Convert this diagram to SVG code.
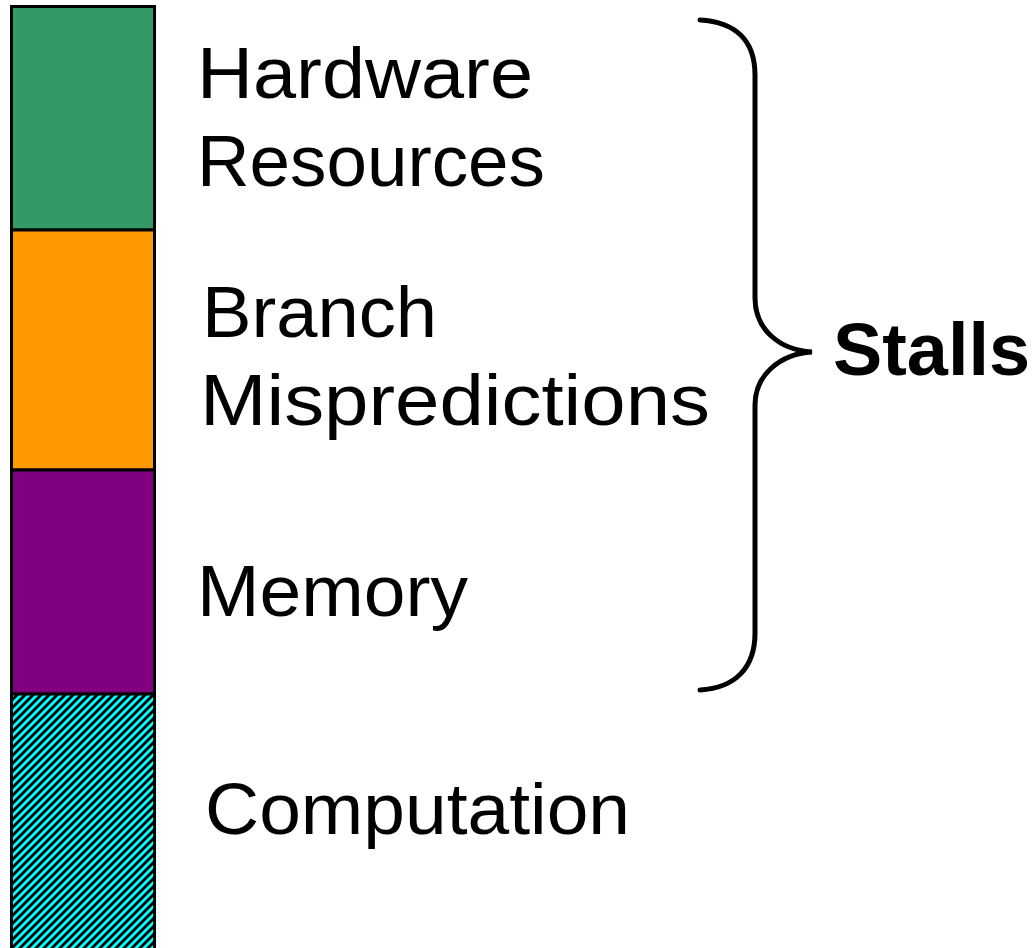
<svg xmlns="http://www.w3.org/2000/svg" width="1036" height="948" viewBox="0 0 1036 948">
<style>
.lbl{font-family:"Liberation Sans",Arial,sans-serif;font-size:72px;fill:#000}
.stalls{font-family:"Liberation Sans",Arial,sans-serif;font-size:74px;font-weight:bold;fill:#000}
.seg{stroke:#000;stroke-width:3}
</style>
<defs>
<pattern id="hatch" patternUnits="userSpaceOnUse" width="8" height="8">
<rect width="8" height="8" fill="#00FFFF"/>
<path d="M-2,2 L2,-2 M0,8 L8,0 M6,10 L10,6" stroke="#000" stroke-width="2.8"/>
</pattern>
</defs>
<rect width="1036" height="948" fill="#fff"/>
<g id="bar">
<rect id="seg-hw" class="seg" x="11.5" y="6.5" width="143" height="223.5" fill="#339966"/>
<rect id="seg-branch" class="seg" x="11.5" y="230" width="143" height="240" fill="#FF9900"/>
<rect id="seg-mem" class="seg" x="11.5" y="470" width="143" height="224" fill="#800080"/>
<rect id="seg-comp" class="seg" x="11.5" y="694" width="143" height="270" fill="url(#hatch)"/>
</g>
<g id="label-hw">
<text class="lbl" x="197" y="98" textLength="336" lengthAdjust="spacingAndGlyphs">Hardware</text>
<text class="lbl" x="197" y="186" textLength="348" lengthAdjust="spacingAndGlyphs">Resources</text>
</g>
<g id="label-branch">
<text class="lbl" x="202" y="337" textLength="235" lengthAdjust="spacingAndGlyphs">Branch</text>
<text class="lbl" x="200" y="425" textLength="510" lengthAdjust="spacingAndGlyphs">Mispredictions</text>
</g>
<g id="label-mem">
<text class="lbl" x="197" y="616" textLength="271" lengthAdjust="spacingAndGlyphs">Memory</text>
</g>
<g id="label-comp">
<text class="lbl" x="205" y="834" textLength="425" lengthAdjust="spacingAndGlyphs">Computation</text>
</g>
<g id="connectors">
<path d="M700,20 C735,22 755,40 755,75 L755,298 C755,330 780,350 812,352 C780,354 755,375 755,405 L755,633 C755,668 735,688 700,690" fill="none" stroke="#000" stroke-width="5" stroke-linecap="round"/>
</g>
<g id="label-stalls">
<text class="stalls" x="833" y="375" textLength="197" lengthAdjust="spacingAndGlyphs">Stalls</text>
</g>
</svg>
